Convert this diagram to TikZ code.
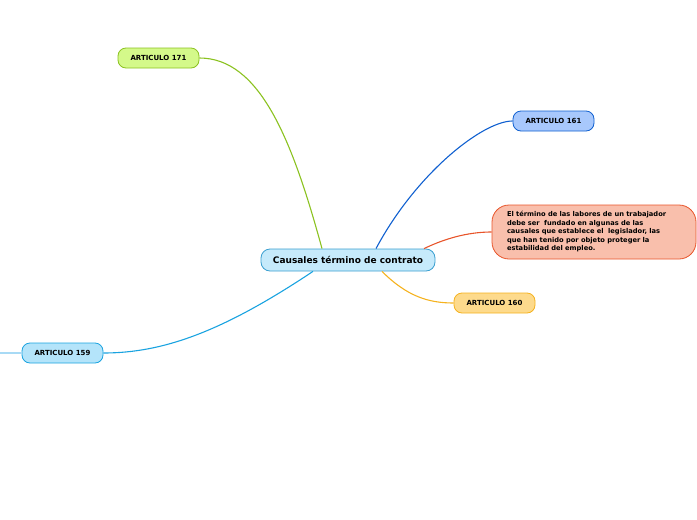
\documentclass[tikz,border=0pt]{standalone}
\usepackage{fontspec}
\setmainfont{DejaVu Sans}
\definecolor{mainfill}{HTML}{C6EAFB}
\definecolor{mainline}{HTML}{3A9FD0}
\definecolor{gfill}{HTML}{D4F98A}
\definecolor{gline}{HTML}{8BC220}
\definecolor{bfill}{HTML}{A8C8FC}
\definecolor{bline}{HTML}{1060D0}
\definecolor{pfill}{HTML}{F9BFAC}
\definecolor{pline}{HTML}{E8542A}
\definecolor{ofill}{HTML}{FDDA8C}
\definecolor{oline}{HTML}{F5B21E}
\definecolor{cfill}{HTML}{B4E4FA}
\definecolor{cline}{HTML}{1AA3E0}
\definecolor{cpale}{HTML}{A8DAF5}
\begin{document}
\begin{tikzpicture}[x=1pt,y=-1pt,
  topic/.style={draw, line width=0.8pt, rounded corners=8pt, minimum width=81pt, minimum height=20pt, inner sep=0pt, font=\bfseries\fontsize{7}{8}\selectfont},
  link/.style={line width=1.1pt}]
\useasboundingbox (0,0) rectangle (697,520);
\node[draw=mainline, fill=mainfill, line width=0.8pt, rounded corners=9pt, minimum width=174pt, minimum height=22pt, inner sep=0pt, font=\bfseries\fontsize{9}{10}\selectfont] (main) at (348,260) {Causales término de contrato};
\node[topic, draw=gline, fill=gfill] (a171) at (158.5,58) {ARTICULO 171};
\node[topic, draw=bline, fill=bfill] (a161) at (553.5,121) {ARTICULO 161};
\node[topic, draw=oline, fill=ofill] (a160) at (494.5,303) {ARTICULO 160};
\node[topic, draw=cline, fill=cfill] (a159) at (62.5,353) {ARTICULO 159};
\node[draw=pline, fill=pfill, line width=0.8pt, rounded corners=17pt, minimum width=204pt, minimum height=54pt, inner sep=0pt, text width=174pt, align=left, font=\bfseries\fontsize{6.7}{8.5}\selectfont] (txt) at (594,232) {El término de las labores de un trabajador\\ debe ser\ \ fundado en algunas de las\\ causales que establece el\ \ legislador, las\\ que han tenido por objeto proteger la\\ estabilidad del empleo.};
\coordinate (edge) at (0,353);
\draw[link, draw=gline] ([xshift=-26pt]main.north) .. controls +(-30,-110) and +(60,0) .. (a171.east);
\draw[link, draw=bline] ([xshift=28pt]main.north) .. controls +(40,-75) and +(-30,0) .. (a161.west);
\draw[link, draw=pline] ([xshift=76pt]main.north) .. controls +(25,-12) and +(-20,0) .. (txt.west);
\draw[link, draw=oline] ([xshift=34pt]main.south) .. controls +(25,25) and +(-25,0) .. (a160.west);
\draw[link, draw=cline] ([xshift=-35pt]main.south) .. controls +(-90,60) and +(60,0) .. (a159.east);
\draw[link, draw=cpale] (edge) -- (a159.west);
\end{tikzpicture}
\end{document}
